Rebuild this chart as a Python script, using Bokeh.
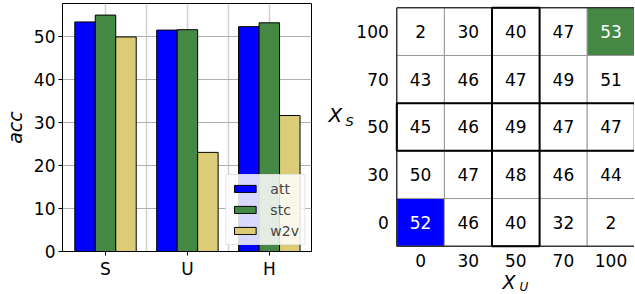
from bokeh.plotting import figure
from bokeh.layouts import row
from bokeh.models import ColumnDataSource, FixedTicker, Legend, LegendItem, Label, Range1d
from bokeh.transform import dodge
from bokeh.core.properties import value
from bokeh.embed import file_html
from bokeh.resources import INLINE

# ---------------- data ----------------
groups = ["S", "U", "H"]
att = [53.5, 51.6, 52.4]
stc = [55.1, 51.7, 53.3]
w2v = [50.0, 23.1, 31.7]
series_names = ["att", "stc", "w2v"]
series_colors = ["#0000ff", "#448844", "#ddcc77"]

xu_labels = ["0", "30", "50", "70", "100"]
xs_labels = ["0", "30", "50", "70", "100"]  # bottom to top
# rows bottom-to-top (X_S = 0, 30, 50, 70, 100), columns X_U = 0..100
heat = [
    [52, 46, 40, 32, 2],
    [50, 47, 48, 46, 44],
    [45, 46, 49, 47, 47],
    [43, 46, 47, 49, 51],
    [2, 30, 40, 47, 53],
]
heat_colors = [
    ["#0000ff", "white", "white", "white", "white"],
    ["white", "white", "white", "white", "white"],
    ["white", "white", "white", "white", "white"],
    ["white", "white", "white", "white", "white"],
    ["white", "white", "white", "white", "#448844"],
]
highlight_label = "50"

FONT = "DejaVu Sans"
H = 290

# ---------------- bar chart ----------------
p1 = figure(frame_width=249, frame_height=248, x_range=Range1d(-0.525, 2.515),
            y_range=Range1d(0, 57.8), output_backend="svg", toolbar_location=None,
            min_border_left=55, min_border_right=8, min_border_top=3, min_border_bottom=H - 251)
p1.background_fill_color = "white"
p1.outline_line_color = "black"
p1.outline_line_width = 1

src = ColumnDataSource(dict(x=list(range(len(groups))), att=att, stc=stc, w2v=w2v))
offsets = [-0.25, 0.0, 0.25]
items = []
for name, col, off in zip(series_names, series_colors, offsets):
    r = p1.vbar(x=dodge("x", off), top=name, width=0.25, source=src,
                fill_color=col, line_color="black", line_width=1)
    items.append(LegendItem(label=name, renderers=[r]))

leg = Legend(items=items, location="bottom_right", margin=6, padding=5, spacing=4,
             glyph_width=27, glyph_height=9, label_standoff=12, label_height=17,
             label_text_font=FONT, label_text_font_size="14px",
             border_line_color="#cccccc", background_fill_alpha=0.85)
p1.add_layout(leg)

p1.xaxis.ticker = FixedTicker(ticks=list(range(len(groups))))
p1.xaxis.major_label_overrides = {i: g for i, g in enumerate(groups)}
p1.yaxis.ticker = FixedTicker(ticks=[0, 10, 20, 30, 40, 50])
for ax in (p1.xaxis[0], p1.yaxis[0]):
    ax.major_label_text_font = FONT
    ax.major_label_text_font_size = "17px"
    ax.major_label_text_color = "black"
    ax.axis_line_color = "black"
    ax.major_tick_line_color = "black"
    ax.major_tick_out = 4
    ax.major_tick_in = 0
    ax.minor_tick_line_color = None
p1.xaxis.major_label_standoff = 3
p1.yaxis.major_label_standoff = 3
p1.yaxis.axis_label = "acc"
p1.yaxis.axis_label_text_font = FONT
p1.yaxis.axis_label_text_font_style = "italic"
p1.yaxis.axis_label_text_font_size = "19px"
p1.yaxis.axis_label_text_color = "black"
p1.yaxis.axis_label_standoff = 5

p1.xgrid.ticker = FixedTicker(ticks=[0, 0.5, 1, 1.5, 2])
p1.xgrid.grid_line_color = "#d0d0d0"
p1.xgrid.grid_line_width = 1.5
p1.ygrid.ticker = FixedTicker(ticks=[10, 20, 30, 40, 50])
p1.ygrid.grid_line_color = "#b0b0b0"
p1.ygrid.grid_line_width = 1

# ---------------- heat map ----------------
# the frame covers the whole figure; axes are pinned to the heat map edges
p2 = figure(frame_width=315, frame_height=291, x_range=Range1d(-2.124, 4.494),
            y_range=Range1d(-1.513, 4.590), output_backend="svg", toolbar_location=None,
            min_border_left=0, min_border_right=0, min_border_top=0, min_border_bottom=0)
p2.outline_line_color = None
p2.xgrid.visible = False
p2.ygrid.visible = False

n_c = len(xu_labels)
n_r = len(xs_labels)
cx, cy, cval, ctxt_col, cfill = [], [], [], [], []
for r in range(n_r):
    for c in range(n_c):
        cx.append(c)
        cy.append(r)
        cval.append(str(heat[r][c]))
        colr = heat_colors[r][c]
        cfill.append(colr)
        ctxt_col.append("black" if colr == "white" else "white")

p2.rect(x=cx, y=cy, width=1, height=1, fill_color=cfill, line_color="#999999", line_width=1)

mid_c = xu_labels.index(highlight_label)
mid_r = xs_labels.index(highlight_label)
center_x = (n_c - 1) / 2
center_y = (n_r - 1) / 2
# thick separators around the "50" column and row, then the outer border
p2.rect(x=[mid_c], y=[center_y], width=1, height=n_r, fill_color=None,
        line_color="black", line_width=2)
p2.rect(x=[center_x], y=[mid_r], width=n_c, height=1, fill_color=None,
        line_color="black", line_width=2)
p2.rect(x=[center_x], y=[center_y], width=n_c, height=n_r, fill_color=None,
        line_color="black", line_width=1)

p2.text(x=cx, y=cy, text=cval, text_color=ctxt_col, text_align="center",
        text_baseline="middle", text_font_size="17px", text_font=value(FONT))

p2.xaxis.ticker = FixedTicker(ticks=list(range(n_c)))
p2.xaxis.major_label_overrides = {i: t for i, t in enumerate(xu_labels)}
p2.yaxis.ticker = FixedTicker(ticks=list(range(n_r)))
p2.yaxis.major_label_overrides = {i: t for i, t in enumerate(xs_labels)}
p2.xaxis.fixed_location = -0.5
p2.yaxis.fixed_location = -0.5
for ax in (p2.xaxis[0], p2.yaxis[0]):
    ax.major_label_text_font = FONT
    ax.major_label_text_font_size = "17px"
    ax.major_label_text_color = "black"
    ax.axis_line_color = None
    ax.major_tick_line_color = None
    ax.major_tick_out = 0
    ax.major_tick_in = 0
    ax.minor_tick_line_color = None
p2.xaxis.major_label_standoff = 8
p2.yaxis.major_label_standoff = 8

lab_kw = dict(text_font=FONT, text_font_style="italic", text_color="black",
              x_units="screen", y_units="screen", text_baseline="middle")
p2.add_layout(Label(x=9, y=180, text="X", text_font_size="20px", **lab_kw))
p2.add_layout(Label(x=26, y=173.5, text="S", text_font_size="13px", **lab_kw))
p2.add_layout(Label(x=183, y=12.5, text="X", text_font_size="19px", **lab_kw))
p2.add_layout(Label(x=200, y=7.5, text="U", text_font_size="12px", **lab_kw))

layout = row(p1, p2)
open("out.html", "w").write(file_html(layout, INLINE))
